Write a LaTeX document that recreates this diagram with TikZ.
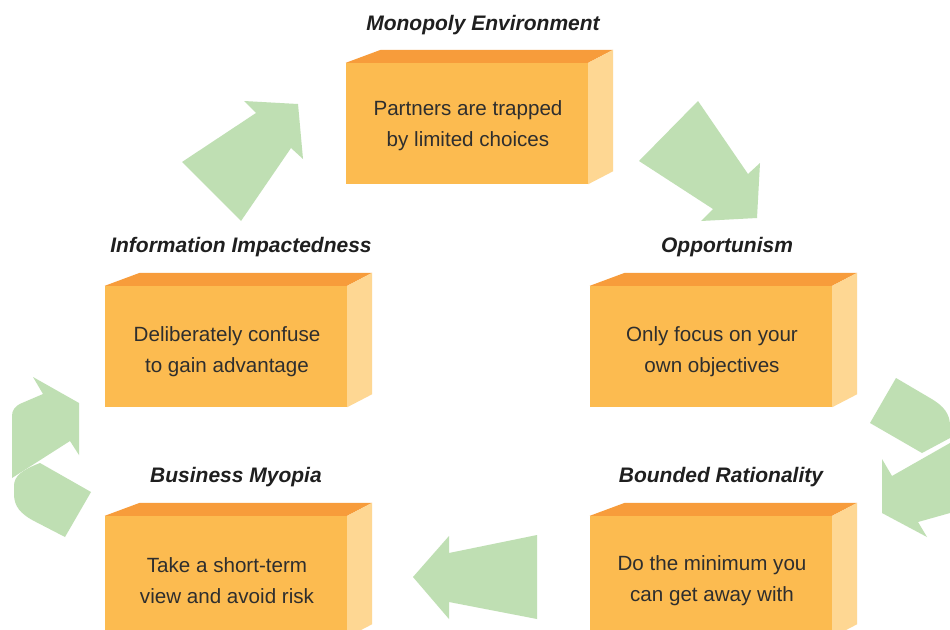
\documentclass[tikz,border=0pt]{standalone}
\usepackage{fontspec}
\setmainfont{Liberation Sans}
\usetikzlibrary{calc}
\definecolor{frontc}{HTML}{FCBB50}
\definecolor{topc}{HTML}{F79C3B}
\definecolor{sidec}{HTML}{FED793}
\definecolor{arrowc}{HTML}{BFDFB3}
\definecolor{txtc}{HTML}{2E2E2E}
\tikzset{
  front/.style={rectangle, fill=frontc, minimum width=242pt, minimum height=121pt, inner sep=0pt},
  boxtext/.style={text=txtc, align=center, inner sep=0pt, font=\fontsize{20.6}{31}\selectfont},
  title/.style={font=\fontsize{21}{24}\selectfont\bfseries\itshape, text=black!88, inner sep=0pt},
  blockarrow/.style={fill=arrowc, draw=none}
}
\newcommand\cubefaces[1]{%
  \fill[topc] (#1.north west) -- ($(#1.north west)+(35,-13)$) -- ($(#1.north east)+(25,-13)$) -- (#1.north east) -- cycle;
  \fill[sidec] (#1.north east) -- ($(#1.north east)+(25,-13)$) -- ($(#1.south east)+(25,-13)$) -- (#1.south east) -- cycle;
}
\begin{document}
\begin{tikzpicture}[x=1pt,y=-1pt]
\useasboundingbox (0,0) rectangle (950,629);
\fill[white] (0,0) rectangle (950,629);
% boxes
\node[front] (mono) at (467,123.5) {};
\node[front] (info) at (226,346.5) {};
\node[front] (opp) at (711,346.5) {};
\node[front] (myo) at (226,576.5) {};
\node[front] (bound) at (711,576.5) {};
\cubefaces{mono}
\cubefaces{info}
\cubefaces{opp}
\cubefaces{myo}
\cubefaces{bound}
\node[boxtext] (xmono) at ($(mono.center)+(1,2)$) {Partners are trapped\\by limited choices};
\node[boxtext] (xinfo) at ($(info.center)+(1,5)$) {Deliberately confuse\\to gain advantage};
\node[boxtext] (xopp) at ($(opp.center)+(1,5)$) {Only focus on your\\own objectives};
\node[boxtext] (xmyo) at ($(myo.center)+(1,4)$) {Take a short-term\\view and avoid risk};
\node[boxtext] (xbound) at ($(bound.center)+(1,4)$) {Do the minimum you\\can get away with};
% titles
\node[title] (tmono) at (483,25) {Monopoly Environment};
\node[title] (tinfo) at (241,247) {Information Impactedness};
\node[title] (topp) at (727,247) {Opportunism};
\node[title] (tmyo) at (236,477) {Business Myopia};
\node[title] (tbound) at (721,477) {Bounded Rationality};
% block arrows
\fill[blockarrow] (182,162) -- (256,113) -- (244,101) -- (298,104) -- (303,159) -- (291,148) -- (241,221) -- cycle;
\fill[blockarrow] (698,101) -- (748,174) -- (760,163) -- (757,218) -- (701,221) -- (713,209) -- (639,161) -- cycle;
\fill[blockarrow] (537,535) -- (537,619) -- (449,602) -- (449,619) -- (413,577) -- (449,536) -- (449,553) -- cycle;
% left recycling arrows
\fill[blockarrow] (33,377) -- (79,403) -- (79,455) -- (70,441) -- (12,478) -- (12,416) .. controls (12,410) and (15,406) .. (22,403) -- (43,394) -- cycle;
\fill[blockarrow] (40,463) -- (91,492) -- (65,537) -- (36,522) .. controls (20,514) and (14,506) .. (14,494) -- (14,486) .. controls (14,476) and (22,470) .. (40,463) -- cycle;
% right recycling arrows
\fill[blockarrow] (896,378) -- (930,398) .. controls (944,406) and (950,414) .. (950,426) -- (950,438) -- (922,453) -- (870,423) -- cycle;
\fill[blockarrow] (882,459) -- (892,476) -- (950,443) -- (950,513) -- (918,522) -- (927,537) -- (882,513) -- cycle;
\end{tikzpicture}
\end{document}
